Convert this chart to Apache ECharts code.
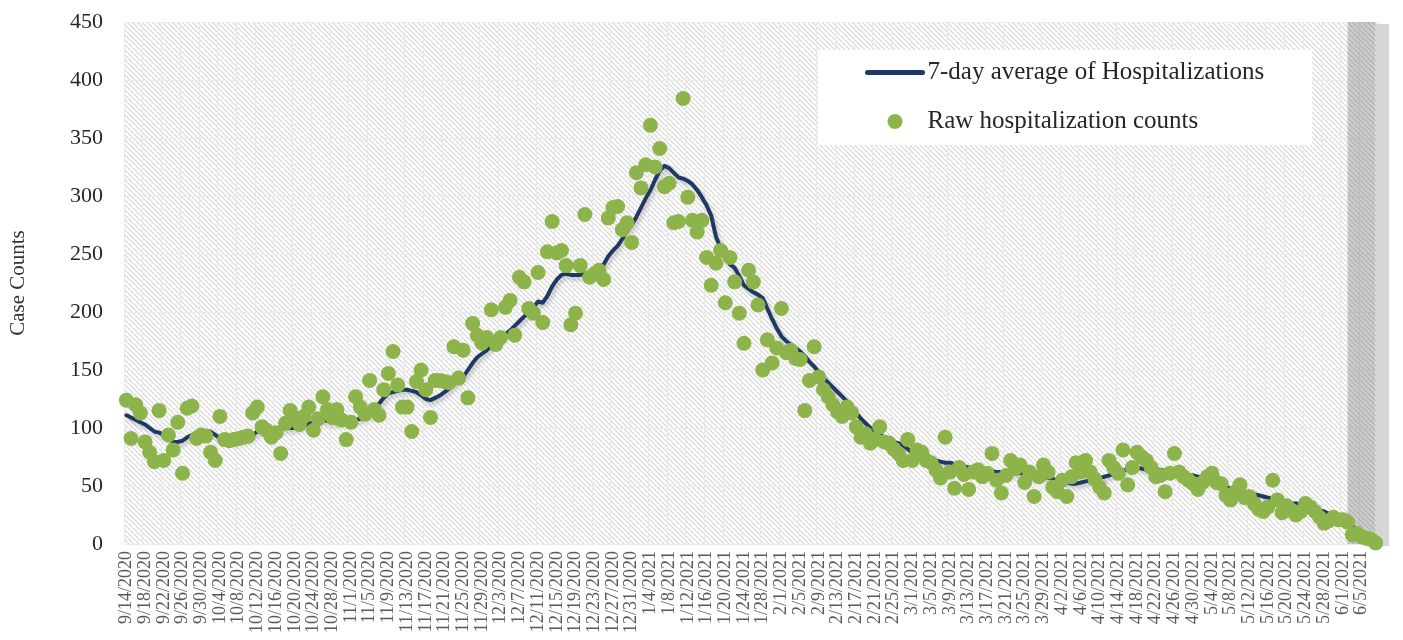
<!DOCTYPE html>
<html>
<head>
<meta charset="utf-8">
<script src="https://cdn.jsdelivr.net/npm/echarts@6/dist/echarts.min.js"></script>
<style>
  html, body { margin: 0; padding: 0; background: #fff; }
  #chart { width: 1403px; height: 640px; }
</style>
</head>
<body>
<div id="chart"></div>
<script>
// daily categories, 9/14/2020 .. 6/8/2021
const startDate = new Date(2020, 8, 14);
const dayCount = 268;
const dates = [];
for (let i = 0; i < dayCount; i++) {
  const d = new Date(startDate.getFullYear(), startDate.getMonth(), startDate.getDate() + i);
  dates.push((d.getMonth() + 1) + "/" + d.getDate() + "/" + d.getFullYear());
}

const yTicks = [0, 50, 100, 150, 200, 250, 300, 350, 400, 450];

// raw daily hospitalization counts
const rawCounts = [
  124, 91, 120, 113, 88, 79, 71, 115, 72, 94,
  81, 105, 61, 117, 119, 91, 94, 93, 79, 72,
  110, 90, 89, 90, 91, 92, 93, 113, 118, 101,
  98, 92, 96, 78, 104, 115, 109, 103, 110, 118,
  98, 108, 127, 116, 109, 116, 107, 90, 105, 127,
  118, 112, 141, 116, 111, 133, 147, 166, 137, 118,
  118, 97, 140, 150, 133, 109, 141, 141, 140, 139,
  170, 143, 167, 126, 190, 180, 173, 178, 202, 172,
  178, 204, 210, 180, 230, 226, 203, 199, 234, 191,
  252, 278, 251, 253, 240, 189, 199, 240, 284, 230,
  233, 236, 228, 281, 290, 291, 271, 277, 260, 320,
  307, 327, 361, 325, 341, 308, 311, 277, 278, 384,
  299, 279, 269, 279, 247, 223, 242, 253, 208, 247,
  226, 199, 173, 236, 226, 206, 150, 176, 156, 169,
  203, 165, 167, 160, 159, 115, 141, 170, 144, 133,
  127, 120, 114, 110, 118, 113, 101, 92, 95, 87,
  90, 101, 88, 87, 82, 78, 72, 90, 72, 81,
  79, 72, 70, 64, 57, 92, 62, 48, 66, 60,
  47, 62, 64, 58, 61, 78, 55, 44, 59, 72,
  65, 68, 53, 62, 41, 58, 68, 62, 49, 45,
  55, 41, 58, 70, 62, 72, 62, 56, 49, 44,
  72, 66, 61, 81, 51, 66, 79, 75, 72, 66,
  58, 59, 45, 61, 78, 62, 58, 55, 52, 47,
  53, 58, 61, 53, 52, 42, 38, 45, 51, 40,
  41, 35, 30, 28, 32, 55, 38, 27, 33, 29,
  25, 28, 35, 32, 28, 23, 18, 20, 23, 21,
  21, 19, 8, 9, 6, 5, 4, 1
];

// 7-day average line
const avgCounts = [
  111, 109, 107, 105, 103, 100, 97, 96, 94, 91,
  88, 88, 89, 92, 94, 96, 96, 97, 97, 94,
  91, 90, 90, 89, 90, 90, 91, 94, 97, 98,
  99, 100, 100, 99, 100, 100, 100, 101, 102, 104,
  105, 107, 107, 106, 105, 105, 106, 107, 107, 107,
  108, 110, 111, 116, 121, 126, 130, 131, 132, 133,
  133, 132, 131, 128, 125, 124, 126, 128, 131, 134,
  138, 141, 144, 150, 156, 161, 164, 167, 171, 175,
  178, 181, 184, 188, 192, 196, 200, 204, 209, 208,
  214, 222, 228, 232, 233, 232, 232, 232, 233, 234,
  236, 238, 241, 248, 253, 257, 263, 270, 275, 282,
  290, 298, 305, 314, 322, 326, 324, 320, 316, 315,
  313, 310, 305, 299, 292, 283, 265, 255, 248, 241,
  238, 231, 223, 220, 217, 215, 212, 203, 194, 186,
  179, 175, 172, 169, 166, 162, 157, 153, 148, 143,
  139, 135, 131, 127, 123, 118, 113, 108, 104, 100,
  96, 94, 92, 90, 88, 87, 85, 82, 79, 77,
  75, 74, 73, 72, 71, 70, 70, 69, 68, 67,
  66, 65, 65, 64, 63, 63, 62, 62, 62, 62,
  61, 61, 61, 61, 60, 59, 58, 57, 56, 55,
  54, 53, 52, 52, 53, 54, 55, 56, 57, 58,
  59, 60, 61, 63, 65, 67, 66, 65, 64, 64,
  64, 64, 63, 62, 62, 61, 60, 59, 59, 58,
  57, 55, 53, 51, 50, 49, 48, 47, 46, 45,
  44, 43, 42, 41, 40, 39, 38, 37, 36, 35,
  35, 34, 33, 32, 30, 29, 28, 26, 25, 23,
  21, 18, 15, 12, 9, 6, 4, 2
];

// incomplete-data window shaded at the end
const shadeRange = ["6/2/2021", "6/8/2021"];

const FONT = "Liberation Serif";

function hatchPattern() {
  const s = 5;
  const c = document.createElement("canvas");
  c.width = s;
  c.height = s;
  const ctx = c.getContext("2d");
  ctx.fillStyle = "#ffffff";
  ctx.fillRect(0, 0, s, s);
  ctx.strokeStyle = "#d6d6d6";
  ctx.lineWidth = 1.2;
  ctx.beginPath();
  ctx.moveTo(0, 0); ctx.lineTo(s, s);
  ctx.moveTo(-1, s - 1); ctx.lineTo(1, s + 1);
  ctx.moveTo(s - 1, -1); ctx.lineTo(s + 1, 1);
  ctx.stroke();
  return { image: c, repeat: "repeat" };
}

const chart = echarts.init(document.getElementById("chart"));

const option = {
  animation: false,
  backgroundColor: "#ffffff",
  textStyle: { fontFamily: FONT },
  grid: {
    show: true,
    left: 121,
    right: 25,
    top: 22,
    bottom: 96,
    borderWidth: 0,
    backgroundColor: hatchPattern(),
  },
  // light drop-shadow strip beside the shaded end of the plot
  graphic: [
    {
      type: "rect",
      z: 1,
      silent: true,
      shape: { x: 1376, y: 24, width: 13, height: 522 },
      style: { fill: "#d6d6d6" },
    },
  ],
  legend: {
    data: [
      {
        name: "7-day average of Hospitalizations",
        itemStyle: { opacity: 0 },
        lineStyle: { width: 5, color: "#1f3864", cap: "round", shadowBlur: 0 },
      },
      { name: "Raw hospitalization counts" },
    ],
    orient: "vertical",
    left: 818,
    top: 50,
    padding: [9, 48, 10, 47],
    backgroundColor: "#ffffff",
    itemWidth: 55,
    itemHeight: 15,
    itemGap: 22,
    textStyle: { fontFamily: FONT, fontSize: 25, color: "#262626", lineHeight: 27 },
  },
  xAxis: {
    type: "category",
    data: dates,
    boundaryGap: true,
    axisLine: { show: false },
    axisTick: { show: false },
    axisLabel: {
      interval: 3,
      rotate: 90,
      margin: 7,
      fontFamily: FONT,
      fontSize: 18,
      color: "#595959",
    },
    splitLine: { show: true, interval: 3, lineStyle: { color: "#e9e9e9", width: 1 } },
  },
  yAxis: {
    type: "value",
    min: yTicks[0],
    max: yTicks[yTicks.length - 1],
    interval: 50,
    name: "Case Counts",
    nameLocation: "middle",
    nameGap: 95,
    nameTextStyle: { fontFamily: FONT, fontSize: 21, color: "#333333" },
    axisLine: { show: false },
    axisTick: { show: false },
    axisLabel: { margin: 21, fontFamily: FONT, fontSize: 22, color: "#262626" },
    splitLine: { show: true, lineStyle: { color: "#ececec", width: 1 } },
  },
  series: [
    {
      name: "7-day average of Hospitalizations",
      type: "line",
      data: avgCounts,
      symbol: "none",
      z: 2,
      itemStyle: { color: "#1f3864" },
      lineStyle: {
        color: "#1f3864",
        width: 4,
        cap: "round",
        join: "round",
        shadowColor: "rgba(0,0,0,0.22)",
        shadowBlur: 4,
        shadowOffsetX: 2,
        shadowOffsetY: 3,
      },
    },
    {
      name: "Raw hospitalization counts",
      type: "scatter",
      data: rawCounts,
      symbol: "circle",
      symbolSize: 15,
      z: 3,
      itemStyle: { color: "#8db44b", opacity: 1 },
    },
    {
      name: "shade",
      type: "line",
      data: [],
      z: 5,
      markArea: {
        silent: true,
        itemStyle: { color: "rgba(110,110,110,0.35)" },
        data: [[{ xAxis: shadeRange[0] }, { xAxis: shadeRange[1] }]],
      },
    },
  ],
};

chart.setOption(option);
</script>
</body>
</html>
